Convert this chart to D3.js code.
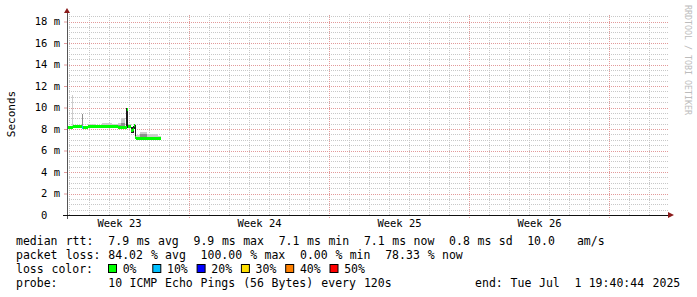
<!DOCTYPE html>
<html>
<head>
<meta charset="utf-8">
<script src="https://cdn.jsdelivr.net/npm/d3@7"></script>
<style>
body { margin:0; background:#fff; }
text { font-family: "DejaVu Sans Mono", monospace; }
</style>
</head>
<body>
<div id="canvas"></div>
<script>
// --- data
// time: hours after graph start, values in ms
var graphStart = Date.UTC(2025, 5, 2, 21, 36);
var graphDays = 30;

var segHours = [0, 6, 7.2, 18, 19.2, 25.2, 33.6, 42, 54, 61.2, 64.8, 69.6, 70.8, 72, 73.2, 76.8, 79.2, 80.4, 81.6, 82.8, 87.6, 96, 109.2, 112.8];
var median   = [8.15, 8.15, 8.2, 8.15, 8.15, 8.2, 8.2, 8.2, 8.2, 8.15, 8.15, 8.1, 8.15, 9.85, 8.2, 7.85, 8.0, 8.3, 7.25, 7.15, 7.15, 7.15, 7.15];
var lossPct  = [0, 0, 0, 10, 0, 0, 0, 0, 0, 0, 0, 0, 0, 0, 0, 0, 0, 0, 0, 0, 0, 0, 0];
var smokeMin = [8.05, 8.05, 8.1, 8.05, 8.05, 8.1, 8.1, 8.1, 8.1, 8.05, 8.05, 8.0, 8.1, 8.1, 8.1, 7.6, 7.6, 8.0, 7.1, 7.05, 7.05, 7.05, 7.05];
var smokeMax = [8.3, 11.2, 8.35, 9.4, 8.3, 8.45, 8.3, 8.55, 8.45, 8.55, 9.0, 8.3, 10.0, 10.0, 8.5, 8.2, 8.3, 8.4, 8.4, 7.45, 7.75, 7.5, 7.35];
var smokeMid = [8.2, 8.3, 8.25, 9.4, 8.2, 8.3, 8.25, 8.4, 8.3, 8.4, 8.6, 8.2, 8.2, 8.2, 8.4, 7.9, 8.0, 8.3, 7.3, 7.25, 7.5, 7.3, 7.2];
var coreLo   = [null, null, null, null, null, null, null, null, null, null, null, null, 8.1, 8.1, null, 7.6, 7.6, 8.0, 7.1, null, null, null, null];
var coreHi   = [null, null, null, null, null, null, null, null, null, null, null, null, 10.0, 10.0, null, 8.2, 8.3, 8.4, 8.4, null, null, null, null];

var yMajor = [0, 2, 4, 6, 8, 10, 12, 14, 16, 18];
var lossSteps = [0, 10, 20, 30, 40, 50];
var lossColors = ['#00ff00', '#00c0ff', '#0000ff', '#ffe000', '#ff8000', '#ff0000'];

var statLines = [
  'median rtt:  7.9 ms avg  9.9 ms max  7.1 ms min  7.1 ms now  0.8 ms sd  10.0   am/s',
  'packet loss: 84.02 % avg  100.00 % max  0.00 % min  78.33 % now',
  'loss color:',
  'probe:       10 ICMP Echo Pings (56 Bytes) every 120s'
];
var endLabel = 'end: Tue Jul  1 19:40:44 2025';

// --- layout
var W = 697, H = 297;
var X0 = 67, X1 = 667, Y0 = 215, Y1 = 14;
var gridCol = '#c8c8c8', mgridCol = '#e29a9a', arrowCol = '#8b1c1c';

var svg = d3.select('#canvas').append('svg')
  .attr('width', W).attr('height', H);

var t0 = new Date(graphStart),
    t1 = new Date(graphStart + graphDays * 864e5);
var hourDate = function(h){ return new Date(graphStart + h * 36e5); };

var x = d3.scaleUtc().domain([t0, t1]).range([X0, X1]);
var y = d3.scaleLinear().domain([0, 18.7]).range([Y0, Y1]);

// --- grid
var grid = svg.append('g');
var minorY = d3.range(0.5, 18.6, 0.5).filter(function(v){ return v % 2 !== 0; });
var days = d3.utcDay.range(t0, t1).filter(function(d){ return d.getUTCDay() !== 1; });
var mondays = d3.utcMonday.range(t0, t1);

grid.selectAll('.hmin').data(minorY).enter().append('line')
  .attr('x1', X0).attr('x2', X1 + 1)
  .attr('y1', function(d){ return Math.round(y(d)) + 0.5; })
  .attr('y2', function(d){ return Math.round(y(d)) + 0.5; })
  .attr('stroke', gridCol).attr('stroke-dasharray', '1,1');
grid.selectAll('.vmin').data(days).enter().append('line')
  .attr('x1', function(d){ return Math.round(x(d)) + 0.5; })
  .attr('x2', function(d){ return Math.round(x(d)) + 0.5; })
  .attr('y1', Y0).attr('y2', Y1)
  .attr('stroke', gridCol).attr('stroke-dasharray', '1,1');
grid.selectAll('.hmaj').data(yMajor.slice(1)).enter().append('line')
  .attr('x1', X0).attr('x2', X1 + 1)
  .attr('y1', function(d){ return Math.round(y(d)) + 0.5; })
  .attr('y2', function(d){ return Math.round(y(d)) + 0.5; })
  .attr('stroke', mgridCol).attr('stroke-dasharray', '1,1');
grid.selectAll('.vmaj').data(mondays).enter().append('line')
  .attr('x1', function(d){ return Math.round(x(d)) + 0.5; })
  .attr('x2', function(d){ return Math.round(x(d)) + 0.5; })
  .attr('y1', Y0 + 3).attr('y2', Y1)
  .attr('stroke', mgridCol).attr('stroke-dasharray', '1,1');

// --- smoke + median
var segs = median.map(function(m, i){
  return {
    a: hourDate(segHours[i]), b: hourDate(segHours[i + 1]),
    med: m, loss: lossPct[i],
    lo: smokeMin[i], hi: smokeMax[i], mid: smokeMid[i],
    clo: coreLo[i], chi: coreHi[i]
  };
});
var plot = svg.append('g');
function band(sel, lo, hi, col){
  sel.append('rect')
    .attr('x', function(d){ return x(d.a); })
    .attr('width', function(d){ return x(d.b) - x(d.a); })
    .attr('y', function(d){ return y(hi(d)); })
    .attr('height', function(d){ return Math.max(0, y(lo(d)) - y(hi(d))); })
    .attr('fill', col).attr('shape-rendering', 'crispEdges');
}
var sg = plot.selectAll('g.seg').data(segs).enter().append('g');
band(sg, function(d){ return d.lo; }, function(d){ return d.hi; }, '#cdcdcd');
band(sg, function(d){ return d.lo; }, function(d){ return d.mid; }, '#8f8f8f');
band(sg.filter(function(d){ return d.clo != null; }),
  function(d){ return d.clo; }, function(d){ return d.chi; }, '#1c1c1c');

function lossColor(p){
  var c = lossColors[0];
  lossSteps.forEach(function(s, i){ if (p >= s) c = lossColors[i]; });
  return c;
}
sg.append('rect')
  .attr('x', function(d){ return x(d.a); })
  .attr('width', function(d){ return x(d.b) - x(d.a); })
  .attr('y', function(d){ return y(d.med) - 1.5; })
  .attr('height', 3)
  .attr('fill', function(d){ return lossColor(d.loss); })
  .attr('shape-rendering', 'crispEdges');

// --- axes
var yAxis = svg.append('g')
  .attr('transform', 'translate(' + X0 + ',0)')
  .call(d3.axisLeft(y).tickValues(yMajor).tickSize(3).tickPadding(4)
    .tickFormat(function(d){ return d ? d + ' m' : '0\u00a0\u00a0'; }));
yAxis.select('.domain').remove();
yAxis.selectAll('line').attr('stroke', mgridCol);
yAxis.selectAll('text').attr('font-family', '"DejaVu Sans Mono", monospace')
  .attr('font-size', '10.5px').attr('fill', '#000');

var weekMids = d3.utcMonday.range(new Date(+t0 - 7 * 864e5), t1)
  .map(function(d){ return new Date(+d + 3.5 * 864e5); })
  .filter(function(d){ return d > t0 && d < t1; });
var xAxis = svg.append('g')
  .attr('transform', 'translate(0,' + Y0 + ')')
  .call(d3.axisBottom(x).tickValues(weekMids).tickSize(0).tickPadding(5)
    .tickFormat(function(d){ return 'Week ' + d3.utcFormat('%V')(d); }));
xAxis.select('.domain').remove();
xAxis.selectAll('text').attr('font-family', '"DejaVu Sans Mono", monospace')
  .attr('font-size', '10.5px').attr('fill', '#000');

svg.append('line').attr('x1', X0 + 0.5).attr('x2', X0 + 0.5)
  .attr('y1', Y0 + 4).attr('y2', Y1 - 2).attr('stroke', '#555');
svg.append('line').attr('x1', X0 - 4).attr('x2', X1 + 2)
  .attr('y1', Y0 + 0.5).attr('y2', Y0 + 0.5).attr('stroke', '#111');
svg.append('path').attr('d', 'M64,13L70,13L67,8Z').attr('fill', arrowCol);
svg.append('path').attr('d', 'M668,212L668,218L674,215Z').attr('fill', arrowCol);

// --- titles
svg.append('text')
  .attr('transform', 'translate(15,114) rotate(-90)')
  .attr('text-anchor', 'middle')
  .attr('font-size', '11px').text('Seconds');
svg.append('text')
  .attr('transform', 'translate(685,5) rotate(90)')
  .attr('font-size', '8.3px').attr('fill', '#bcbcbc')
  .text('RRDTOOL / TOBI OETIKER');

// --- legend text, placed by character column
var CW = 7.1, LX = 16;
function monoLine(str, x0, yb){
  var re = /\S+/g, m;
  while ((m = re.exec(str)) !== null) {
    svg.append('text').attr('x', x0 + m.index * CW).attr('y', yb)
      .attr('font-size', '11.5px').attr('fill', '#000').text(m[0]);
  }
}
statLines.forEach(function(s, i){ monoLine(s, LX, 245 + i * 14); });
monoLine(endLabel, 681 - endLabel.length * CW, 287);

var sw = svg.append('g').selectAll('g').data(lossSteps).enter().append('g')
  .attr('transform', function(d, i){ return 'translate(' + (108.5 + i * 44.3) + ',264.5)'; });
sw.append('rect').attr('width', 8).attr('height', 8)
  .attr('fill', function(d, i){ return lossColors[i]; })
  .attr('stroke', '#000');
sw.append('text').attr('x', 14.2).attr('y', 8.5)
  .attr('font-size', '11.5px').text(function(d){ return d + '%'; });
</script>
</body>
</html>
